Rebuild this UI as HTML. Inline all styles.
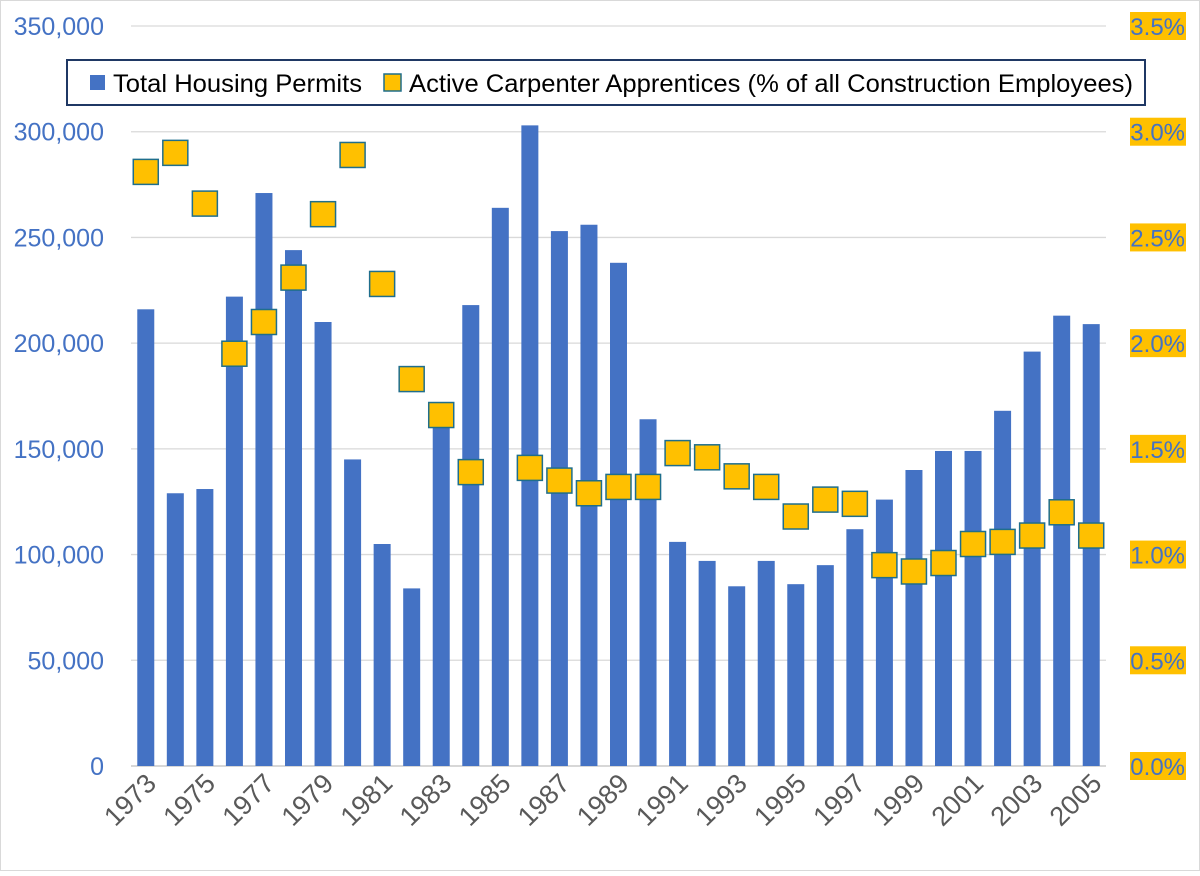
<!DOCTYPE html>
<html><head><meta charset="utf-8"><style>
body{margin:0;background:#fff;}
svg text{font-family:"Liberation Sans",sans-serif;}
</style></head><body>
<svg id="chart" width="1200" height="871" viewBox="0 0 1200 871" xmlns="http://www.w3.org/2000/svg">
<rect x="0.5" y="0.5" width="1199" height="870" fill="#fff" stroke="#d9d9d9"/>
<g id="grid"></g>
<g id="bars"></g>
<g id="marks"></g>
<g id="yl"></g>
<g id="yr"></g>
<g id="xl"></g>
<g>
<rect x="67" y="60" width="1078" height="45" fill="#fff" stroke="#1f3864" stroke-width="2"/>
<rect x="90" y="75" width="15" height="15" fill="#4472c4"/>
<text x="113" y="92" font-size="25" textLength="249" lengthAdjust="spacingAndGlyphs" fill="#000">Total Housing Permits</text>
<rect x="384" y="74" width="17" height="17" fill="#ffc000" stroke="#1f6e8c" stroke-width="1.5"/>
<text x="409" y="92" font-size="25" textLength="724" lengthAdjust="spacingAndGlyphs" fill="#000">Active Carpenter Apprentices (% of all Construction Employees)</text>
</g>
</svg>
<script>
const years=[1973,1974,1975,1976,1977,1978,1979,1980,1981,1982,1983,1984,1985,1986,1987,1988,1989,1990,1991,1992,1993,1994,1995,1996,1997,1998,1999,2000,2001,2002,2003,2004,2005];
const permits=[216000,129000,131000,222000,271000,244000,210000,145000,105000,84000,168000,218000,264000,303000,253000,256000,238000,164000,106000,97000,85000,97000,86000,95000,112000,126000,140000,149000,149000,168000,196000,213000,209000];
const apprentices=[2.81,2.90,2.66,1.95,2.10,2.31,2.61,2.89,2.28,1.83,1.66,1.39,null,1.41,1.35,1.29,1.32,1.32,1.48,1.46,1.37,1.32,1.18,1.26,1.24,0.95,0.92,0.96,1.05,1.06,1.09,1.20,1.09];
const leftTicks=[0,50000,100000,150000,200000,250000,300000,350000];
const rightTicks=[0,0.5,1.0,1.5,2.0,2.5,3.0,3.5];
const NS="http://www.w3.org/2000/svg";
const x0=131,x1=1106,yB=766,yT=26;
const step=(x1-x0)/years.length;
function xc(i){return x0+step*(i+0.5);}
function yL(v){return yB-(v/350000)*(yB-yT);}
function yR(v){return yB-(v/3.5)*(yB-yT);}
function mk(t,a,p){const e=document.createElementNS(NS,t);for(const k in a)e.setAttribute(k,a[k]);p.appendChild(e);return e;}
const grid=document.getElementById('grid'),bars=document.getElementById('bars'),marks=document.getElementById('marks');
const yl=document.getElementById('yl'),yr=document.getElementById('yr'),xl=document.getElementById('xl');
leftTicks.forEach((t,i)=>{
 const l=mk('line',{x1:x0,x2:x1,y1:yL(t),y2:yL(t),stroke:t===0?'#bfbfbf':'#d9d9d9','stroke-width':1.3},grid);
 
 
 const tx=mk('text',{x:104,y:yL(t)+9,'font-size':25,fill:'#4472c4','text-anchor':'end'},yl);
 tx.textContent=t.toLocaleString('en-US');
 
 
});
rightTicks.forEach(t=>{
 const bg=mk('rect',{x:1130,y:yR(t)-14,width:56,height:28,fill:'#ffc000'},yr);
 
 
 const tx=mk('text',{x:1185,y:yR(t)+9,'font-size':24,fill:'#4472c4','text-anchor':'end'},yr);
 tx.textContent=t.toFixed(1)+'%';
 
 
});
years.forEach((yr_,i)=>{
 const b=mk('rect',{x:xc(i)-8.5,y:yL(permits[i]),width:17,height:yB-yL(permits[i]),fill:'#4472c4'},bars);
 
 
 if(i%2===0){
  const tx=mk('text',{x:0,y:0,'font-size':27,fill:'#595959','text-anchor':'end',transform:`translate(${xc(i)+12},${785}) rotate(-45)`},xl);
  tx.textContent=yr_;
  
  
 }
});
apprentices.forEach((v,i)=>{
 if(v==null)return;
 const m=mk('rect',{x:xc(i)-12.5,y:yR(v)-12.5,width:25,height:25,fill:'#ffc000',stroke:'#1f6e8c','stroke-width':1.5},marks);
 
 
});
</script>
</body></html>
